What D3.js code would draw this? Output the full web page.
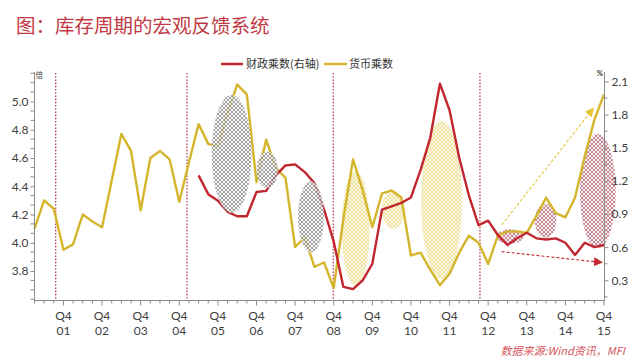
<!DOCTYPE html>
<html><head><meta charset="utf-8">
<script src="https://cdn.jsdelivr.net/npm/d3@7"></script>
<style>
html,body{margin:0;padding:0;background:#fff;}
svg{display:block;}
</style></head>
<body><svg id="c" width="640" height="359"></svg>
<script>
// ---------------- data ----------------
const yearLabels = ["01","02","03","04","05","06","07","08","09","10","11","12","13","14","15"];
const quarterLabel = "Q4";
// quarterly, Q1 2001 .. Q4 2015 (60 points)
const moneyMultiplier = [4.10,4.30,4.24,3.95,3.99,4.20,4.15,4.11,4.44,4.77,4.65,4.23,4.60,4.65,4.59,4.29,
  4.57,4.84,4.70,4.68,4.92,5.12,5.05,4.43,4.73,4.53,4.46,3.97,4.04,3.83,3.86,3.68,4.17,4.59,4.37,4.11,
  4.35,4.37,4.32,3.91,3.93,3.81,3.70,3.78,3.93,4.05,4.00,3.85,4.05,4.08,4.08,4.07,4.19,4.32,4.21,4.18,
  4.32,4.61,4.87,5.05];
const fiscalMultiplier = [null,null,null,null,null,null,null,null,null,null,null,null,null,null,null,null,null,
  1.25,1.08,1.02,0.92,0.88,0.88,1.10,1.11,1.25,1.34,1.35,1.28,1.18,0.94,0.65,0.24,0.22,0.30,0.45,0.94,
  0.97,1.00,1.05,1.30,1.59,2.08,1.84,1.41,1.07,0.80,0.84,0.71,0.62,0.68,0.73,0.68,0.67,0.68,0.64,0.53,
  0.64,0.60,0.62];
const leftTicks = [3.8,4.0,4.2,4.4,4.6,4.8,5.0];
const rightTicks = [0.3,0.6,0.9,1.2,1.5,1.8,2.1];
const cycleMarks = [2.2, 15.8, 30.95, 46.15];          // quarter index of dashed dividers
// hatched highlight areas, in (quarter index, left-axis value)
const hatchAreas = [
  {kind:"dark",   cx:20.42, cy:4.628, rx:2.07, ry:0.418},
  {kind:"dark",   cx:24.11, cy:4.515, rx:1.11, ry:0.130},
  {kind:"dark",   cx:28.64, cy:4.184, rx:1.35, ry:0.251},
  {kind:"yellow", cx:33.27, cy:4.102, rx:1.45, ry:0.407},
  {kind:"yellow", cx:37.16, cy:4.232, rx:1.17, ry:0.133},
  {kind:"yellow", cx:42.17, cy:4.303, rx:2.12, ry:0.559},
  {kind:"maroon", cx:49.25, cy:4.043, rx:1.38, ry:0.052},
  {kind:"maroon", cx:52.95, cy:4.156, rx:1.12, ry:0.120},
  {kind:"maroon", cx:58.36, cy:4.366, rx:1.86, ry:0.404}
];
const trendArrows = [
  {kind:"yellow", x1:48.4, v1:4.126, x2:57.9, v2:4.952},
  {kind:"red",    x1:48.4, v1:3.937, x2:58.8, v2:3.860}
];

// ---------------- layout ----------------
const W = 640, H = 359;
const plotLeft = 34.5, plotRight = 604.5, plotTop = 72, plotBottom = 300.5;
const C = {yellow:"#d4b52c", red:"#c2262e", axis:"#8a8a8a", text:"#404040"};

const svg = d3.select("#c");
const x = d3.scaleLinear().domain([0, 59]).range([34.5, 604]);
const yL = d3.scaleLinear().domain([3.8, 5.0]).range([271, 101.5]);
const yR = d3.scaleLinear().domain([0.3, 2.1]).range([280.3, 81.5]);

// patterns
const defs = svg.append("defs");
function hatch(id, color, bg, w, s) {
  const p = defs.append("pattern").attr("id", id).attr("patternUnits","userSpaceOnUse")
    .attr("width", s).attr("height", s);
  if (bg) p.append("rect").attr("width",s).attr("height",s).attr("fill",bg);
  const q = s / 4;
  p.append("path").attr("d",`M0,0L${s},${s}M${s},0L0,${s}M${-q},${s-q}L${q},${s+q}M${s-q},${-q}L${s+q},${q}M${-q},${q}L${q},${-q}M${s-q},${s+q}L${s+q},${s-q}`)
    .attr("stroke", color).attr("stroke-width", w).attr("fill","none");
}
hatch("h-dark", "#4a4a4a", "#f4f4f4", 0.6, 4);
hatch("h-yellow", "#e0cd6a", "#fcf8e0", 0.6, 4);
hatch("h-maroon", "#93344a", "#f8ecee", 0.6, 4);
["yellow","red"].forEach(k => {
  defs.append("marker").attr("id","arr-"+k).attr("viewBox","0 0 10 10").attr("refX",9).attr("refY",5)
    .attr("markerWidth",9).attr("markerHeight",9).attr("markerUnits","userSpaceOnUse").attr("orient","auto")
    .append("path").attr("d","M0,0L10,5L0,10z").attr("fill", k==="yellow" ? "#e6c532" : C.red);
});

// title
svg.append("text").attr("x",16).attr("y",32.5).attr("fill","#c23a44")
  .attr("font-family","'Noto Sans CJK SC',sans-serif").attr("font-size",19.5)
  .text("图：库存周期的宏观反馈系统");

// legend
const lg = svg.append("g").attr("font-family","'Noto Sans CJK SC',sans-serif").attr("font-size",11).attr("fill","#333");
lg.append("line").attr("x1",221).attr("x2",243).attr("y1",64).attr("y2",64).attr("stroke",C.red).attr("stroke-width",2.5);
lg.append("text").attr("x",246).attr("y",68).text("财政乘数(右轴)");
lg.append("line").attr("x1",324).attr("x2",347).attr("y1",64).attr("y2",64).attr("stroke",C.yellow).attr("stroke-width",2.5);
lg.append("text").attr("x",349).attr("y",68).text("货币乘数");

// dashed dividers
svg.append("g").selectAll("line").data(cycleMarks).join("line")
  .attr("x1", d => x(d)).attr("x2", d => x(d)).attr("y1", plotTop + 1).attr("y2", plotBottom)
  .attr("stroke","#a8283a").attr("stroke-width",1.1).attr("stroke-dasharray","1.6,1.6");

// light hatched areas (behind lines)
function drawAreas(kinds) {
  svg.append("g").selectAll("ellipse").data(hatchAreas.filter(d => kinds.includes(d.kind))).join("ellipse")
    .attr("cx", d => x(d.cx)).attr("cy", d => yL(d.cy))
    .attr("rx", d => x(d.rx) - x(0)).attr("ry", d => yL(3.8) - yL(3.8 + d.ry))
    .attr("fill", d => "url(#h-" + d.kind + ")")
    .attr("opacity", d => d.kind === "dark" ? 0.8 : 0.9);
}
drawAreas(["yellow","maroon"]);

// lines
const lineL = d3.line().x((d,i) => x(i)).y(d => yL(d));
const lineR = d3.line().defined(d => d != null).x((d,i) => x(i)).y(d => yR(d));
svg.append("path").attr("d", lineL(moneyMultiplier)).attr("fill","none")
  .attr("stroke",C.yellow).attr("stroke-width",2.4).attr("stroke-linejoin","round");
svg.append("path").attr("d", lineR(fiscalMultiplier)).attr("fill","none")
  .attr("stroke",C.red).attr("stroke-width",2.4).attr("stroke-linejoin","round");

drawAreas(["dark"]);

// trend arrows
svg.append("g").selectAll("line").data(trendArrows).join("line")
  .attr("x1", d => x(d.x1)).attr("y1", d => yL(d.v1)).attr("x2", d => x(d.x2)).attr("y2", d => yL(d.v2))
  .attr("stroke", d => d.kind === "yellow" ? "#e3c53a" : C.red).attr("stroke-width",1.1)
  .attr("stroke-dasharray","3,2").attr("marker-end", d => "url(#arr-" + d.kind + ")");

// axes
const numFont = "Lato, 'Open Sans', sans-serif";
const gL = svg.append("g").attr("transform",`translate(${plotLeft},0)`)
  .call(d3.axisLeft(yL).tickValues(leftTicks).tickFormat(d3.format(".1f")).tickSize(4).tickPadding(2));
const gR = svg.append("g").attr("transform",`translate(${plotRight},0)`)
  .call(d3.axisRight(yR).tickValues(rightTicks).tickFormat(d3.format(".1f")).tickSize(4).tickPadding(3));
[gL, gR].forEach(g => {
  g.select(".domain").remove();
  g.selectAll("line").attr("stroke", C.axis);
  g.selectAll("text").attr("fill", C.text).attr("font-family", numFont).attr("font-size", 12);
});
// minor ticks
const minorL = d3.range(3.6, 5.21, 0.2/3).filter(v => !leftTicks.some(t => Math.abs(t - v) < 0.01));
svg.append("g").selectAll("line").data(minorL).join("line")
  .attr("x1", plotLeft - 4).attr("x2", plotLeft).attr("y1", d => yL(d)).attr("y2", d => yL(d)).attr("stroke", C.axis);
const minorR = d3.range(0.15, 2.2, 0.3);
svg.append("g").selectAll("line").data(minorR).join("line")
  .attr("x1", plotRight).attr("x2", plotRight + 3).attr("y1", d => yR(d)).attr("y2", d => yR(d)).attr("stroke", C.axis);
// domain lines
svg.append("line").attr("x1",plotLeft).attr("x2",plotLeft).attr("y1",plotTop).attr("y2",plotBottom).attr("stroke",C.axis);
svg.append("line").attr("x1",plotRight).attr("x2",plotRight).attr("y1",plotTop).attr("y2",plotBottom).attr("stroke",C.axis);
svg.append("line").attr("x1",plotLeft).attr("x2",plotRight).attr("y1",plotBottom).attr("y2",plotBottom).attr("stroke",C.axis);
// x ticks
svg.append("g").selectAll("line").data(d3.range(60)).join("line")
  .attr("x1", d => x(d)).attr("x2", d => x(d)).attr("y1", plotBottom)
  .attr("y2", d => plotBottom + (d % 4 === 3 ? 5 : 3)).attr("stroke", C.axis);
const xl = svg.append("g").attr("font-family", numFont).attr("font-size", 12).attr("fill", C.text).attr("text-anchor","middle");
yearLabels.forEach((lab, k) => {
  const xi = x(k * 4 + 3);
  xl.append("text").attr("x", xi).attr("y", 319.5).text(quarterLabel);
  xl.append("text").attr("x", xi).attr("y", 335).text(lab);
});
// units
svg.append("text").attr("x",35.5).attr("y",77.5).attr("font-size",7.5).attr("fill","#333")
  .attr("font-family","'Noto Sans CJK SC',sans-serif").text("倍");
svg.append("text").attr("x",603).attr("y",75.5).attr("font-size",7.5).attr("fill","#333").attr("text-anchor","end")
  .attr("font-family",numFont).attr("font-weight","bold").text("%");

// source
svg.append("text").attr("x",625).attr("y",355).attr("text-anchor","end").attr("font-size",11)
  .attr("font-style","italic").attr("fill","#d4555e").attr("font-family","'Noto Sans CJK SC',sans-serif")
  .text("数据来源:Wind资讯，MFI");
</script>
</body></html>
